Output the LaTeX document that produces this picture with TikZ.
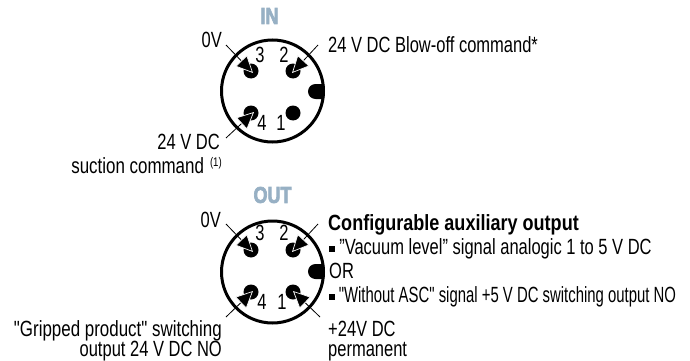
\documentclass[tikz,border=0pt]{standalone}
\usepackage{fontspec}
\setmainfont[FakeStretch=0.75]{Liberation Sans}
\newfontfamily\tightfont[FakeStretch=0.677]{Liberation Sans}
\newfontfamily\gripfont[FakeStretch=0.77]{Liberation Sans}
\newfontfamily\headfont[FakeStretch=0.82]{Liberation Sans Bold}
\newfontfamily\titlefont[FakeStretch=0.78,FakeBold=3]{Liberation Sans Bold}
\usetikzlibrary{arrows.meta}
\definecolor{titleblue}{HTML}{97B0C4}
\newcommand{\qmark}{\char34\relax}
\tikzset{
 shell/.style={circle,draw=black,line width=3pt,minimum size=102pt,inner sep=0pt},
 pin/.style={circle,fill=black,minimum size=15pt,inner sep=0pt},
 lead/.style={line width=0.8pt,-{Triangle[length=17pt,width=16pt,color=white,fill=black,line width=0.7pt]}},
 txt/.style={inner sep=0pt,font=\fontsize{22}{24}\selectfont},
 lt/.style={txt,anchor=base west},
 rt/.style={txt,anchor=base east},
 num/.style={txt,anchor=center},
 ttl/.style={inner sep=0pt,anchor=center,text=titleblue,font=\titlefont\fontsize{23}{24}\selectfont},
}
\begin{document}
\begin{tikzpicture}[x=1pt,y=-1pt]
\useasboundingbox (0,0) rectangle (690,361);
% IN connector
\node[ttl] (tin) at (269.5,16) {IN};
\node[shell] (cin) at (272.5,91) {};
\node[pin] (p3) at (251,71) {};
\node[pin] (p2) at (293,71) {};
\node[pin] (p4) at (251,113) {};
\node[pin] (p1) at (293,113) {};
\path[fill=black] (324,84) -- (315.5,84) arc[start angle=270,end angle=90,radius=7.5] -- (324,99) -- cycle;
\node[num] (n3) at (260,55) {3};
\node[num] (n2) at (284,55) {2};
\node[num] (n4) at (262,123) {4};
\node[num] (n1) at (281,123) {1};
\coordinate (a3) at (226,45);
\coordinate (a2) at (318,45);
\coordinate (a4) at (226,138);
\coordinate (t3) at (253,73);
\coordinate (t2) at (292,73);
\coordinate (t4) at (254,112);
\draw[lead] (a3) -- (t3);
\draw[lead] (a2) -- (t2);
\draw[lead] (a4) -- (t4);
\node[rt] (l0) at (222,48) {0V};
\node[lt] (l1) at (328,52.5) {24 V DC Blow-off command*};
\node[rt] (l2) at (220,149.5) {24 V DC};
\node[rt] (l3) at (222,173.5) {\gripfont suction command\hspace{6pt}\raisebox{7pt}{\fontsize{12.5}{12.5}\selectfont (1)}};
% OUT connector
\node[ttl] (tout) at (272.5,195) {OUT};
\node[shell] (cout) at (272.5,272) {};
\node[pin] (q3) at (251,250) {};
\node[pin] (q2) at (293,250) {};
\node[pin] (q4) at (251,292) {};
\node[pin] (q1) at (293,292) {};
\path[fill=black] (324,264) -- (315.5,264) arc[start angle=270,end angle=90,radius=7.5] -- (324,279) -- cycle;
\node[num] (m3) at (260,233) {3};
\node[num] (m2) at (284,233) {2};
\node[num] (m4) at (262,302) {4};
\node[num] (m1) at (282,302) {1};
\coordinate (b3) at (226,224);
\coordinate (b2) at (318,224);
\coordinate (b4) at (226,317);
\coordinate (b1) at (320,317);
\coordinate (u3) at (253,252);
\coordinate (u2) at (292,252);
\coordinate (u4) at (253,291);
\coordinate (u1) at (293,291);
\draw[lead] (b3) -- (u3);
\draw[lead] (b2) -- (u2);
\draw[lead] (b4) -- (u4);
\draw[lead] (b1) -- (u1);
\node[rt] (r0) at (221,227) {0V};
\node[lt] (r1) at (328,230) {\headfont Configurable auxiliary output};
\node[lt] (r2) at (329,254) {\raisebox{2.5pt}{\rule{5.5pt}{5.5pt}} \qmark Vacuum level\qmark{} signal analogic 1 to 5 V DC};
\node[lt] (r3) at (329,278) {OR};
\node[lt] (r4) at (329,302) {\tightfont\raisebox{2.5pt}{\rule{5.5pt}{5.5pt}} \qmark Without ASC\qmark{} signal +5 V DC switching output NO};
\node[lt] (r5) at (328,336) {+24V DC};
\node[lt] (r6) at (328,356.2) {permanent};
\node[rt] (s1) at (222,336) {\gripfont\qmark Gripped product\qmark{} switching};
\node[rt] (s2) at (222,356.2) {output 24 V DC NO};
\end{tikzpicture}
\end{document}
